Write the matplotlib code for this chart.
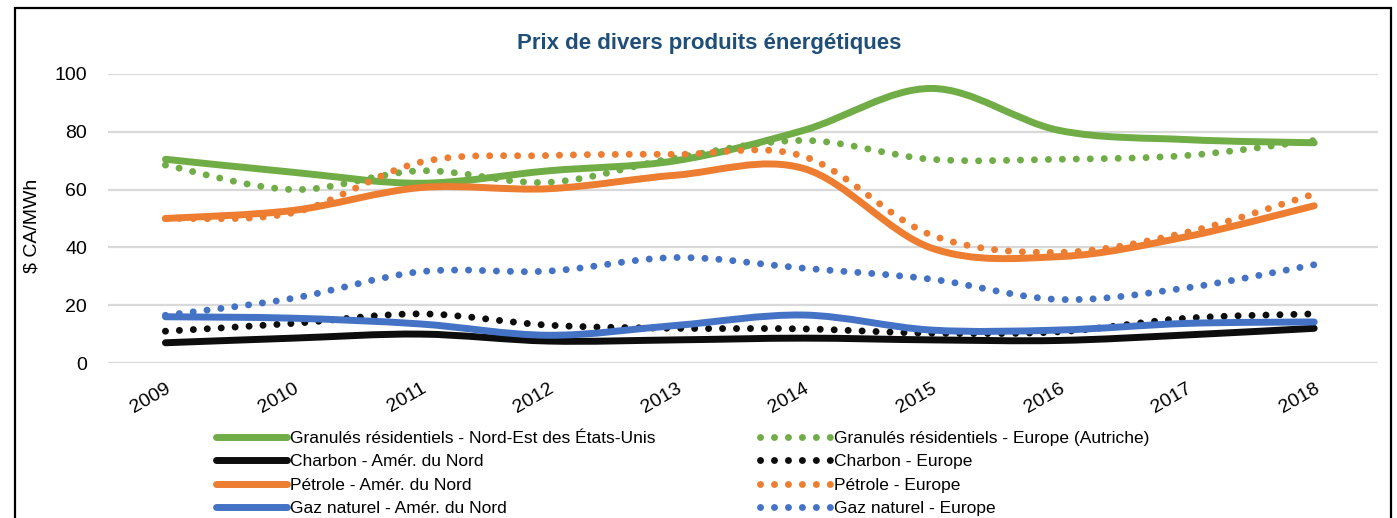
import matplotlib
matplotlib.use('Agg')
import matplotlib.pyplot as plt
from matplotlib.path import Path
from matplotlib.patches import PathPatch, Rectangle
from matplotlib.lines import Line2D
from matplotlib import font_manager

# ── Data ─────────────────────────────────────────────────────────────────────
years = [2009, 2010, 2011, 2012, 2013, 2014, 2015, 2016, 2017, 2018]

granules_ne = [70.5, 66.0, 62.2, 66.5, 70.0, 80.5, 95.0, 80.5, 77.3, 76.2]
granules_eu = [68.5, 60.0, 66.5, 62.5, 71.0, 77.0, 70.5, 70.5, 71.8, 77.0]
charbon_na = [7.0, 8.6, 10.0, 7.6, 8.0, 8.6, 8.0, 7.8, 9.7, 12.0]
charbon_eu = [11.0, 13.7, 17.0, 13.1, 12.0, 11.8, 10.3, 10.8, 15.5, 17.0]
petrole_na = [50.0, 52.8, 60.7, 60.3, 65.0, 67.3, 39.8, 36.8, 43.7, 54.4]
petrole_eu = [50.0, 52.0, 69.5, 71.8, 72.2, 71.5, 44.3, 38.3, 45.2, 58.5]
gaz_na = [16.0, 15.5, 13.5, 9.6, 13.0, 16.6, 11.4, 11.4, 13.7, 14.2]
gaz_eu = [16.5, 22.4, 31.6, 31.8, 36.5, 32.8, 29.0, 22.0, 26.0, 34.0]

labels = [
    'Granulés résidentiels - Nord-Est des États-Unis',
    'Granulés résidentiels - Europe (Autriche)',
    'Charbon - Amér. du Nord',
    'Charbon - Europe',
    'Pétrole - Amér. du Nord',
    'Pétrole - Europe',
    'Gaz naturel - Amér. du Nord',
    'Gaz naturel - Europe',
]
series = [granules_ne, granules_eu, charbon_na, charbon_eu,
          petrole_na, petrole_eu, gaz_na, gaz_eu]
colors = ['#70AD47', '#70AD47', '#0D0D0D', '#0D0D0D',
          '#ED7D31', '#ED7D31', '#4472C4', '#4472C4']
dotted = [False, True, False, True, False, True, False, True]

TITLE = 'Prix de divers produits énergétiques'
YLABEL = '$ CA/MWh'

# ── Fonts ────────────────────────────────────────────────────────────────────
names = {f.name for f in font_manager.fontManager.ttflist}
narrow = 'Liberation Sans Narrow' if 'Liberation Sans Narrow' in names else 'Liberation Sans'
plt.rcParams['font.family'] = [narrow, 'DejaVu Sans']


def smooth_path(xs, ys):
    """Excel-like smoothed line as a cubic Bezier path through the points."""
    verts = [(xs[0], ys[0])]
    codes = [Path.MOVETO]
    n = len(xs)
    for i in range(n - 1):
        x0, y0 = (xs[i - 1], ys[i - 1]) if i > 0 else (xs[i], ys[i])
        x1, y1 = xs[i], ys[i]
        x2, y2 = xs[i + 1], ys[i + 1]
        x3, y3 = (xs[i + 2], ys[i + 2]) if i + 2 < n else (x2, y2)
        c1 = (x1 + (x2 - x0) / 6.0, y1 + (y2 - y0) / 6.0)
        c2 = (x2 - (x3 - x1) / 6.0, y2 - (y3 - y1) / 6.0)
        verts += [c1, c2, (x2, y2)]
        codes += [Path.CURVE4] * 3
    return Path(verts, codes)


W, H = 1397, 518
fig = plt.figure(figsize=(W / 100, H / 100), dpi=100)
ax = fig.add_axes([108 / W, 1 - 363 / H, (1378 - 108) / W, (363 - 74) / H])

solid_style = dict(linewidth=5.0, capstyle='round', joinstyle='round')
dot_style = dict(linewidth=5.0, linestyle=(0, (0.01, 2.0)), capstyle='round')

handles = []
for ys, col, is_dot, lab in zip(series, colors, dotted, labels):
    style = dot_style if is_dot else solid_style
    patch = PathPatch(smooth_path(years, ys), fill=False, edgecolor=col, **style)
    ax.add_patch(patch)
    handles.append(Line2D([], [], color=col, label=lab,
                          linewidth=style['linewidth'],
                          linestyle=style.get('linestyle', '-'),
                          solid_capstyle='round', dash_capstyle='round'))

ax.set_xlim(2008.55, 2018.5)
ax.set_ylim(0, 100)
ax.set_yticks([0, 20, 40, 60, 80, 100])
ax.set_xticks(years)
ax.set_xticklabels([str(y) for y in years], rotation=30, ha='right',
                   rotation_mode='anchor', fontsize=14)
ax.tick_params(axis='y', labelsize=14, length=0, pad=15)
ax.tick_params(axis='x', length=0, pad=12)
ax.grid(True, axis='y', color='#D9D9D9', linewidth=1.6)
ax.set_axisbelow(True)
for s in ax.spines.values():
    s.set_visible(False)
ax.set_ylabel(YLABEL, fontsize=14)
ax.yaxis.set_label_coords((40 - 108) / 1270, (363 - 226) / 289)

fig.text(709 / W, 1 - 44 / H, TITLE, ha='center', va='center',
         fontsize=16, fontweight='bold', color='#1F4E79')

# legend: solids in the first column, dotted in the second
order = [0, 2, 4, 6, 1, 3, 5, 7]
leg = fig.legend([handles[i] for i in order], [labels[i] for i in order],
                 loc='upper left', bbox_to_anchor=(216 / W, 1 - 431 / H),
                 ncol=2, frameon=False, fontsize=12.5, handlelength=4.1,
                 handletextpad=0.17, columnspacing=6.0, labelspacing=0.47,
                 borderpad=0, borderaxespad=0)

fig.add_artist(Rectangle((15 / W, -0.05), (1391 - 15) / W, 1.05 - 8 / H,
                         transform=fig.transFigure, fill=False,
                         edgecolor='black', linewidth=1.6))

fig.savefig('out.png', dpi=100)
